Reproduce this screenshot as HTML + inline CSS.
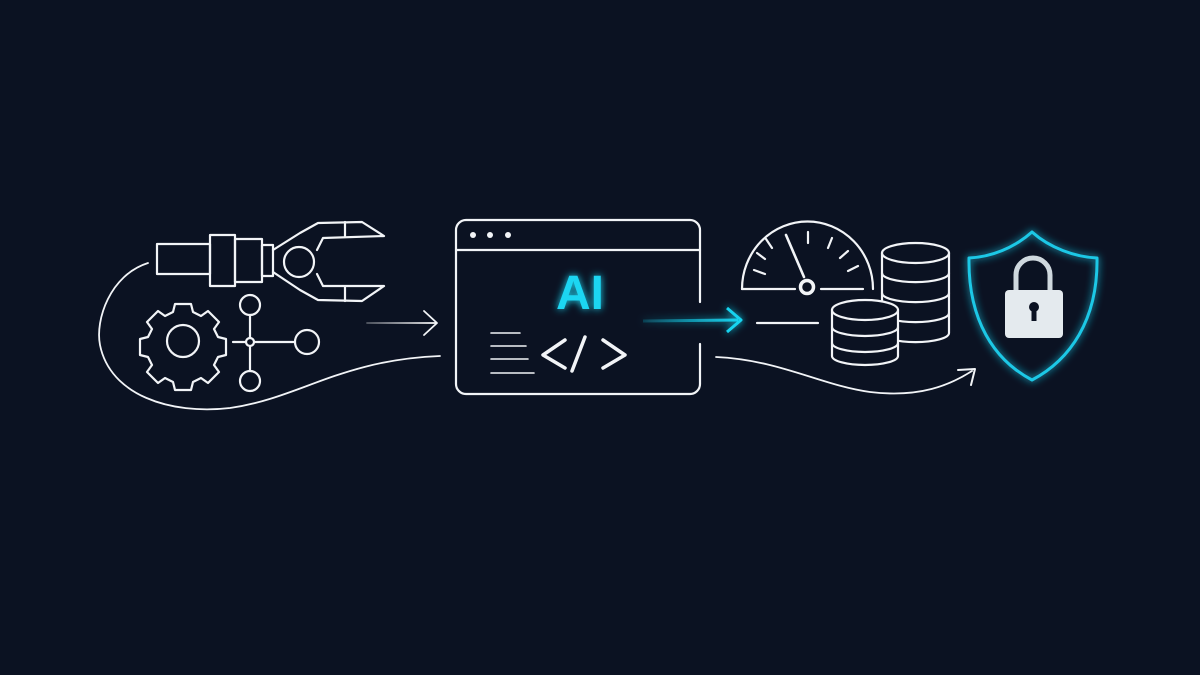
<!DOCTYPE html>
<html><head><meta charset="utf-8"><style>
html,body{margin:0;padding:0;background:#0b1222;}
svg{display:block}
</style></head><body>
<svg width="1200" height="675" viewBox="0 0 1200 675" xmlns="http://www.w3.org/2000/svg">
<defs>
<filter id="glow" x="-50%" y="-50%" width="200%" height="200%"><feGaussianBlur stdDeviation="4" result="b"/><feMerge><feMergeNode in="b"/><feMergeNode in="SourceGraphic"/></feMerge></filter>
<linearGradient id="ca" gradientUnits="userSpaceOnUse" x1="643" y1="0" x2="740" y2="0"><stop offset="0" stop-color="#18d4f0" stop-opacity="0.2"/><stop offset="1" stop-color="#18d4f0"/></linearGradient>
<linearGradient id="wa" gradientUnits="userSpaceOnUse" x1="367" y1="0" x2="437" y2="0"><stop offset="0" stop-color="#fff" stop-opacity="0.3"/><stop offset="1" stop-color="#fff"/></linearGradient>
</defs>
<rect width="1200" height="675" fill="#0b1222"/>
<g fill="none" stroke="#f2f4f7" stroke-width="2.2" stroke-linejoin="round" stroke-linecap="round">
<rect x="157" y="244" width="53" height="30"/>
<rect x="210" y="235" width="25" height="51"/>
<rect x="235" y="239" width="27" height="43"/>
<rect x="262" y="245" width="11" height="31"/>
<circle cx="299" cy="262" r="15"/>
<path d="M273 250 L300 233 L318 223 L362 222 L384 236 L323 238 L317 250"/>
<path d="M345 222 L345 236"/>
<path d="M273 272 L300 290 L318 300 L362 301 L384 286 L323 286 L317 274"/>
<path d="M345 287 L345 301"/>
<path d="M175 304 h16 l2 8 l8 4 l7-5 l11 11 l-5 7 l4 8 l8 2 v16 l-8 2 l-4 8 l5 7 l-11 11 l-7-5 l-8 4 l-2 8 h-16 l-2-8 l-8-4 l-7 5 l-11-11 l5-7 l-4-8 l-8-2 v-16 l8-2 l4-8 l-5-7 l11-11 l7 5 l8-4 z"/>
<circle cx="183" cy="341" r="16"/>
<circle cx="250" cy="342" r="4"/>
<circle cx="250" cy="305" r="10"/>
<circle cx="250" cy="381" r="10"/>
<circle cx="307" cy="342" r="12"/>
<path d="M233 342 H246 M254 342 H295 M250 315 V338 M250 346 V371"/>
<path d="M148 263 C110 275 95 320 100 345 C110 395 170 415 230 408 C300 398 340 360 440 356" stroke-width="1.8"/>
<path d="M367 323 H436" stroke="url(#wa)" stroke-width="1.8"/>
<path d="M424 311 L437 323 L424 335" stroke-width="1.8"/>
<path d="M700 302 V230 a10 10 0 0 0 -10 -10 H466 a10 10 0 0 0 -10 10 V384 a10 10 0 0 0 10 10 H690 a10 10 0 0 0 10 -10 V344"/>
<path d="M456 250 H700"/>
<circle cx="473" cy="235" r="3" fill="#f2f4f7" stroke="none"/>
<circle cx="490" cy="235" r="3" fill="#f2f4f7" stroke="none"/>
<circle cx="508" cy="235" r="3" fill="#f2f4f7" stroke="none"/>
<path d="M491 333 H520 M491 346 H526 M491 359 H528 M491 373 H534" stroke-width="1.6"/>
<path d="M565 340 L543 355 L565 368 M585 337 L572 371 M603 340 L625 355 L603 368" stroke-width="3.5"/>
<path d="M742 289 A65 67 0 0 1 873 289"/>
<path d="M742 289 H795 M821 289 H863"/>
<path d="M808 232 V243 M832 238 L828 248 M848 251 L840 258 M858 266 L848 271 M757 253 L765 259 M766 239 L772 248 M754 270 L765 274"/>
<path d="M786 235 L804 277" stroke-width="2.6"/>
<circle cx="807" cy="287" r="6.5" stroke-width="3.5"/>
<path d="M757 323 H818"/>
<path d="M882 253 V333 a33 9 0 0 0 67 0 V253"/>
<ellipse cx="915.5" cy="253" rx="33.5" ry="10" fill="#0b1222"/>
<path d="M882 273 a33 9 0 0 0 67 0 M882 293 a33 9 0 0 0 67 0 M882 313 a33 9 0 0 0 67 0"/>
<path d="M832 310 V356 a33 9 0 0 0 66 0 V310" fill="#0b1222"/>
<ellipse cx="865" cy="310" rx="33" ry="10" fill="#0b1222"/>
<path d="M832 327 a33 9 0 0 0 66 0 M832 343 a33 9 0 0 0 66 0"/>
<path d="M716 357 C780 360 820 385 870 392 C920 398 950 385 972 371" stroke-width="1.8"/>
<path d="M958 370 L975 369 L971 385" stroke-width="2"/>
</g>
<g filter="url(#glow)">
<path d="M643 321 L738 320" stroke="url(#ca)" stroke-width="3" fill="none"/>
<path d="M727 308 L741 320 L727 332" stroke="#18d4f0" stroke-width="3" fill="none" stroke-linejoin="round"/>
<text x="580" y="309" text-anchor="middle" font-family="Liberation Sans, sans-serif" font-weight="bold" font-size="48" fill="#1fd6f2">AI</text>
<path d="M1032 232 C1050 248 1075 257 1097 258 C1098 320 1070 360 1032 380 C994 360 968 320 969 258 C991 257 1014 248 1032 232 Z" fill="none" stroke="#1cc8e6" stroke-width="3" stroke-linejoin="round"/>
</g>
<path d="M1016 292 V275 a17 17 0 0 1 34 0 V292" fill="none" stroke="#cfd8de" stroke-width="5"/>
<rect x="1005" y="290" width="58" height="48" rx="4" fill="#e4eaee"/>
<circle cx="1034" cy="307" r="5" fill="#0b1222"/>
<rect x="1031.5" y="308" width="5" height="13" fill="#0b1222"/>
</svg>
</body></html>
